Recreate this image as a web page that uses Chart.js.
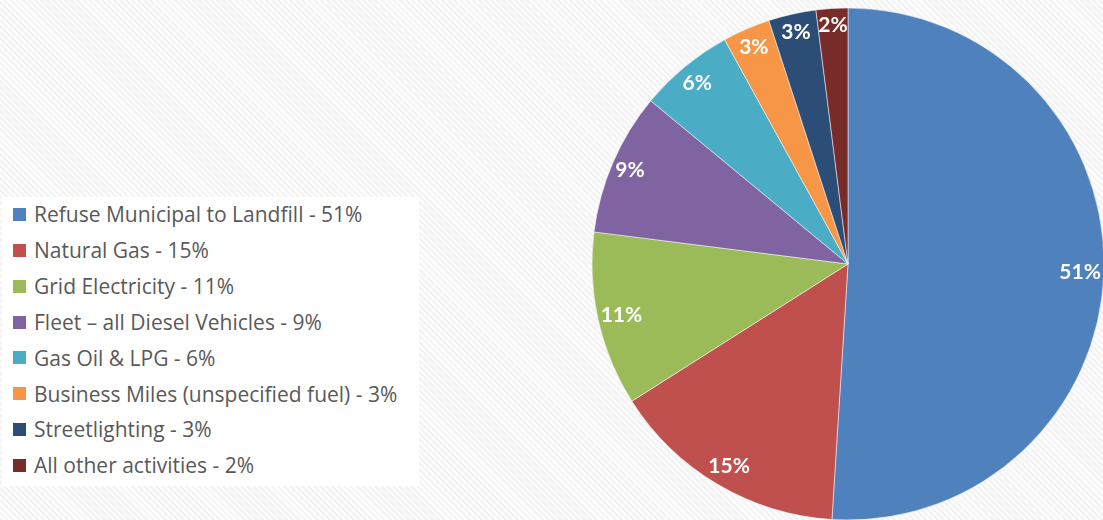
<!DOCTYPE html>
<html>
<head>
<meta charset="utf-8">
<script src="https://cdn.jsdelivr.net/npm/chart.js@4/dist/chart.umd.min.js"></script>
<style>
  html, body { margin:0; padding:0; }
  body {
    width:1103px; height:520px; overflow:hidden; position:relative;
    background: repeating-linear-gradient(45deg, #f3f3f3 0 2px, #fcfcfc 2px 4.3px);
    font-family: "Open Sans", sans-serif;
  }
  .legend {
    position:absolute; left:2px; top:197px; width:417px; height:289px;
    background:#fff;
  }
  .legend .item {
    position:absolute; left:11px; height:26px; line-height:26px;
    font-size:21px; color:#595959; white-space:nowrap;
  }
  .legend .sw {
    display:inline-block; width:13px; height:13px; vertical-align:middle;
    margin-right:8px; position:relative; top:-2px;
  }
  .wrap { position:absolute; left:592px; top:8px; width:512px; height:512px; }
</style>
</head>
<body>
<div class="legend" id="legend"></div>
<div class="wrap"><canvas id="pie"></canvas></div>
<script>
// categories and shares (percent)
const categories = [
  'Refuse Municipal to Landfill',
  'Natural Gas',
  'Grid Electricity',
  'Fleet \u2013 all Diesel Vehicles',
  'Gas Oil & LPG',
  'Business Miles (unspecified fuel)',
  'Streetlighting',
  'All other activities'
];
const shares = [51, 15, 11, 9, 6, 3, 3, 2];
const colours = ['#4F81BD', '#C0504D', '#9BBB59', '#8064A2', '#4BACC6', '#F79646', '#2C4D75', '#772C2A'];

// white % labels sitting just inside the rim
const insideEndLabels = {
  id: 'insideEndLabels',
  afterDatasetsDraw(chart) {
    const ctx = chart.ctx;
    const meta = chart.getDatasetMeta(0);
    ctx.save();
    ctx.font = 'bold 21px Lato, "Open Sans", sans-serif';
    ctx.fillStyle = '#fff';
    ctx.textAlign = 'center';
    ctx.textBaseline = 'middle';
    meta.data.forEach((arc, i) => {
      const p = arc.getProps(['x', 'y', 'startAngle', 'endAngle', 'outerRadius'], true);
      const mid = (p.startAngle + p.endAngle) / 2;
      const txt = shares[i] + '%';
      const tw = ctx.measureText(txt).width;
      const s = Math.sin(mid), c = Math.cos(mid);
      const r = p.outerRadius - 3 - Math.abs(c) * tw / 2 - s * s * 12;
      ctx.fillText(txt, p.x + c * r, p.y + s * r + 1);
    });
    ctx.restore();
  }
};

const chart = new Chart(document.getElementById('pie'), {
  type: 'pie',
  data: {
    labels: categories,
    datasets: [{
      data: shares,
      backgroundColor: colours,
      borderColor: 'rgba(255,255,255,0.5)',
      borderWidth: 1,
      hoverOffset: 0,
      radius: 256
    }]
  },
  options: {
    responsive: true,
    maintainAspectRatio: false,
    animation: false,
    events: [],
    layout: { padding: 0 },
    plugins: {
      legend: { display: false },
      tooltip: { enabled: false }
    }
  },
  plugins: [insideEndLabels]
});

// html legend from the same arrays
const legend = document.getElementById('legend');
categories.forEach((c, i) => {
  const el = document.createElement('div');
  el.className = 'item';
  el.style.top = (4 + i * 35.9) + 'px';
  el.innerHTML = '<span class="sw" style="background:' + colours[i] + '"></span>';
  el.appendChild(document.createTextNode(c + ' - ' + shares[i] + '%'));
  legend.appendChild(el);
});
</script>
</body>
</html>
